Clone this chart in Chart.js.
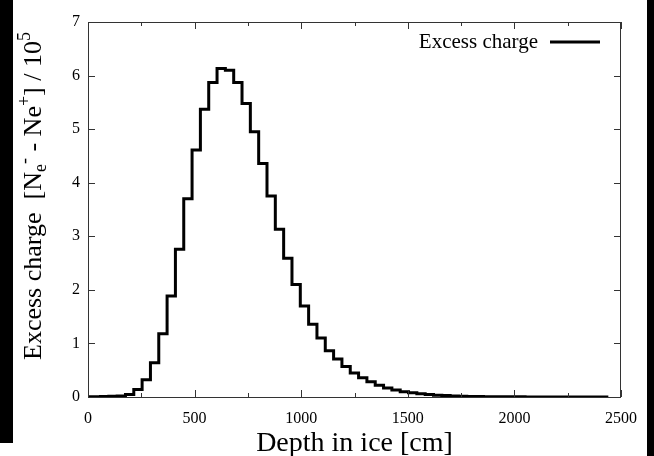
<!DOCTYPE html>
<html>
<head>
<meta charset="utf-8">
<script src="https://cdn.jsdelivr.net/npm/chart.js@4.4.1/dist/chart.umd.min.js"></script>
<style>
  html, body { margin: 0; padding: 0; background: #fff; }
  #wrap { position: relative; width: 654px; height: 456px; }
  .strip { position: absolute; top: 0; background: #000; }
</style>
</head>
<body>
<div id="wrap">
  <canvas id="chart" width="654" height="456"></canvas>
  <div class="strip" style="left:0;width:13px;height:443px"></div>
  <div class="strip" style="left:647px;width:7px;height:456px"></div>
</div>
<script>
// one bin per radiation length in ice (cm)
const binWidth = 39.05;

// excess charge per bin, in units of 10^5
const excessCharge = [
  0.005, 0.006, 0.008, 0.012, 0.02, 0.045, 0.14, 0.32, 0.64, 1.18,
  1.885, 2.757, 3.70, 4.61, 5.37, 5.87, 6.13, 6.10, 5.87, 5.48,
  4.95, 4.36, 3.75, 3.13, 2.59, 2.10, 1.70, 1.36, 1.10, 0.865,
  0.71, 0.57, 0.45, 0.36, 0.285, 0.22, 0.17, 0.13, 0.10, 0.078,
  0.06, 0.045, 0.034, 0.026, 0.02, 0.015, 0.011, 0.009, 0.007, 0.005,
  0.004, 0.003, 0.003, 0.002, 0.002, 0.002, 0.001, 0.001, 0.001, 0.001,
  0.001, 0.001, 0.001
];

const xTickValues = [0, 500, 1000, 1500, 2000, 2500];
const xMinorTicks = [250, 750, 1250, 1750, 2250];
const yTickValues = [0, 1, 2, 3, 4, 5, 6, 7];

const seriesLabel = "Excess charge";
const xTitle = "Depth in ice [cm]";
// y title pieces: [text, kind] kind = n(ormal) / sub / sup
const yTitleParts = [
  ["Excess charge  [N", "n"], ["e", "sub"], ["-", "sup"],
  [" - Ne", "n"], ["+", "sup"], ["] / 10", "n"], ["5", "sup"]
];

const serif = "'Liberation Serif', 'DejaVu Serif', serif";

// histogram edges -> stepped line (each value spans its own bin)
const points = excessCharge.map((v, i) => ({ x: (i - 0.5) * binWidth, y: v }));
points.push({ x: (excessCharge.length - 0.5) * binWidth, y: excessCharge[excessCharge.length - 1] });

const frame = {
  id: "frame",
  afterDatasetsDraw(chart) {
    const { ctx, chartArea: a, scales: { x, y } } = chart;
    ctx.save();
    ctx.strokeStyle = "#333";
    ctx.lineWidth = 1;
    ctx.strokeRect(a.left + 0.5, a.top + 0.5, a.right - a.left - 1, a.bottom - a.top);
    ctx.beginPath();
    const tickX = (v, len) => {
      const px = Math.round(x.getPixelForValue(v)) + 0.5;
      ctx.moveTo(px, a.bottom); ctx.lineTo(px, a.bottom - len);
      ctx.moveTo(px, a.top); ctx.lineTo(px, a.top + len);
    };
    xTickValues.forEach(v => tickX(v, 7));
    xMinorTicks.forEach(v => tickX(v, 4));
    yTickValues.forEach(v => {
      const py = Math.round(y.getPixelForValue(v)) + 0.5;
      ctx.moveTo(a.left, py); ctx.lineTo(a.left + 7, py);
      ctx.moveTo(a.right, py); ctx.lineTo(a.right - 7, py);
    });
    ctx.stroke();

    // key, top right inside the frame: label then line sample
    const ds = chart.data.datasets[0];
    const ky = a.top + 20;
    ctx.fillStyle = "#000";
    ctx.font = "21px " + serif;
    ctx.textAlign = "right";
    ctx.textBaseline = "middle";
    ctx.fillText(ds.label, a.right - 83, ky);
    ctx.beginPath();
    ctx.strokeStyle = ds.borderColor;
    ctx.lineWidth = ds.borderWidth;
    ctx.moveTo(a.right - 71, ky);
    ctx.lineTo(a.right - 21, ky);
    ctx.stroke();
    ctx.restore();
  },
  afterDraw(chart) {
    const { ctx } = chart;
    const size = 26, small = 18;
    ctx.save();
    ctx.fillStyle = "#000";
    ctx.textBaseline = "alphabetic";
    const fontFor = k => (k === "n" ? size : small) + "px " + serif;
    let total = 0;
    yTitleParts.forEach(([t, k]) => { ctx.font = fontFor(k); total += ctx.measureText(t).width; });
    ctx.translate(41, 196);
    ctx.rotate(-Math.PI / 2);
    let cx = -total / 2;
    yTitleParts.forEach(([t, k]) => {
      ctx.font = fontFor(k);
      const dy = k === "sub" ? 5 : k === "sup" ? -11 : 0;
      ctx.fillText(t, cx, dy);
      cx += ctx.measureText(t).width;
    });
    ctx.restore();
  }
};

new Chart(document.getElementById("chart"), {
  type: "line",
  data: {
    datasets: [{
      label: seriesLabel,
      data: points,
      stepped: "before",
      borderColor: "#000",
      backgroundColor: "#000",
      borderWidth: 3,
      pointRadius: 0,
      fill: false
    }]
  },
  options: {
    responsive: false,
    animation: false,
    layout: { padding: { top: 22, right: 33, left: 0, bottom: 0 } },
    plugins: {
      tooltip: { enabled: false },
      legend: { display: false }
    },
    scales: {
      x: {
        type: "linear",
        min: 0,
        max: 2500,
        afterFit: s => { s.height = 59; },
        afterBuildTicks: s => { s.ticks = xTickValues.map(v => ({ value: v })); },
        grid: { display: false, drawTicks: false },
        border: { display: false },
        ticks: { color: "#000", font: { family: serif, size: 16 }, padding: 12, maxRotation: 0, callback: v => String(v) },
        title: { display: true, text: xTitle, color: "#000", font: { family: serif, size: 28, lineHeight: 1 }, padding: { top: 0, bottom: -2 } }
      },
      y: {
        min: 0,
        max: 7,
        afterFit: s => { s.width = 88; },
        afterBuildTicks: s => { s.ticks = yTickValues.map(v => ({ value: v })); },
        grid: { display: false, drawTicks: false },
        border: { display: false },
        ticks: { color: "#000", font: { family: serif, size: 16 }, padding: 8, callback: v => String(v) }
      }
    }
  },
  plugins: [frame]
});
</script>
</body>
</html>
